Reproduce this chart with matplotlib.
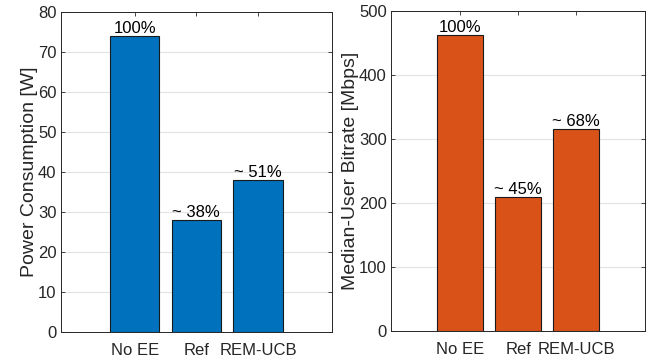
import numpy as np
import matplotlib
matplotlib.use("Agg")
import matplotlib.pyplot as plt

plt.rcParams['font.family'] = ['Liberation Sans', 'DejaVu Sans']

categories = ['No EE', 'Ref', 'REM-UCB']
power = [74, 28, 38]
bitrate = [462, 209, 316]
power_labels = ['100%', '~ 38%', '~ 51%']
bitrate_labels = ['100%', '~ 45%', '~ 68%']

fig = plt.figure(figsize=(6.55, 3.59), dpi=100)
W, H = 655, 359
ax1 = fig.add_axes([60.7 / W, 1 - 332 / H, (332 - 60.7) / W, (332 - 12) / H])
ax2 = fig.add_axes([391 / W, 1 - 331 / H, (645.3 - 391) / W, (331 - 11) / H])


def draw(ax, values, labels, color, ylim, yticks, ylabel):
    x = np.arange(1, len(values) + 1)
    ax.bar(x, values, width=0.8, color=color, edgecolor='#1a1a1a', linewidth=0.8, zorder=3)
    for xi, v, lab in zip(x, values, labels):
        ax.text(xi, v, lab, ha='center', va='bottom', fontsize=12, color='black', zorder=4)
    ax.set_xlim(-0.2, 4.2)
    ax.set_ylim(*ylim)
    ax.set_yticks(yticks)
    ax.set_xticks(x)
    ax.set_xticklabels(categories)
    ax.set_ylabel(ylabel, fontsize=14, color='#262626', labelpad=0)
    ax.grid(axis='y', color='#e3e3e3', linewidth=0.8, zorder=0)
    ax.tick_params(direction='in', top=True, right=True, length=3, width=0.6,
                   labelsize=12, colors='#262626', pad=3)
    ax.tick_params(axis='x', pad=8)
    for s in ax.spines.values():
        s.set_color('#262626')
        s.set_linewidth(0.7)


draw(ax1, power, power_labels, '#0072BD', (0, 80), range(0, 81, 10), 'Power Consumption [W]')
draw(ax2, bitrate, bitrate_labels, '#D95319', (0, 500), range(0, 501, 100), 'Median-User Bitrate [Mbps]')

fig.savefig('out.png', dpi=100)
